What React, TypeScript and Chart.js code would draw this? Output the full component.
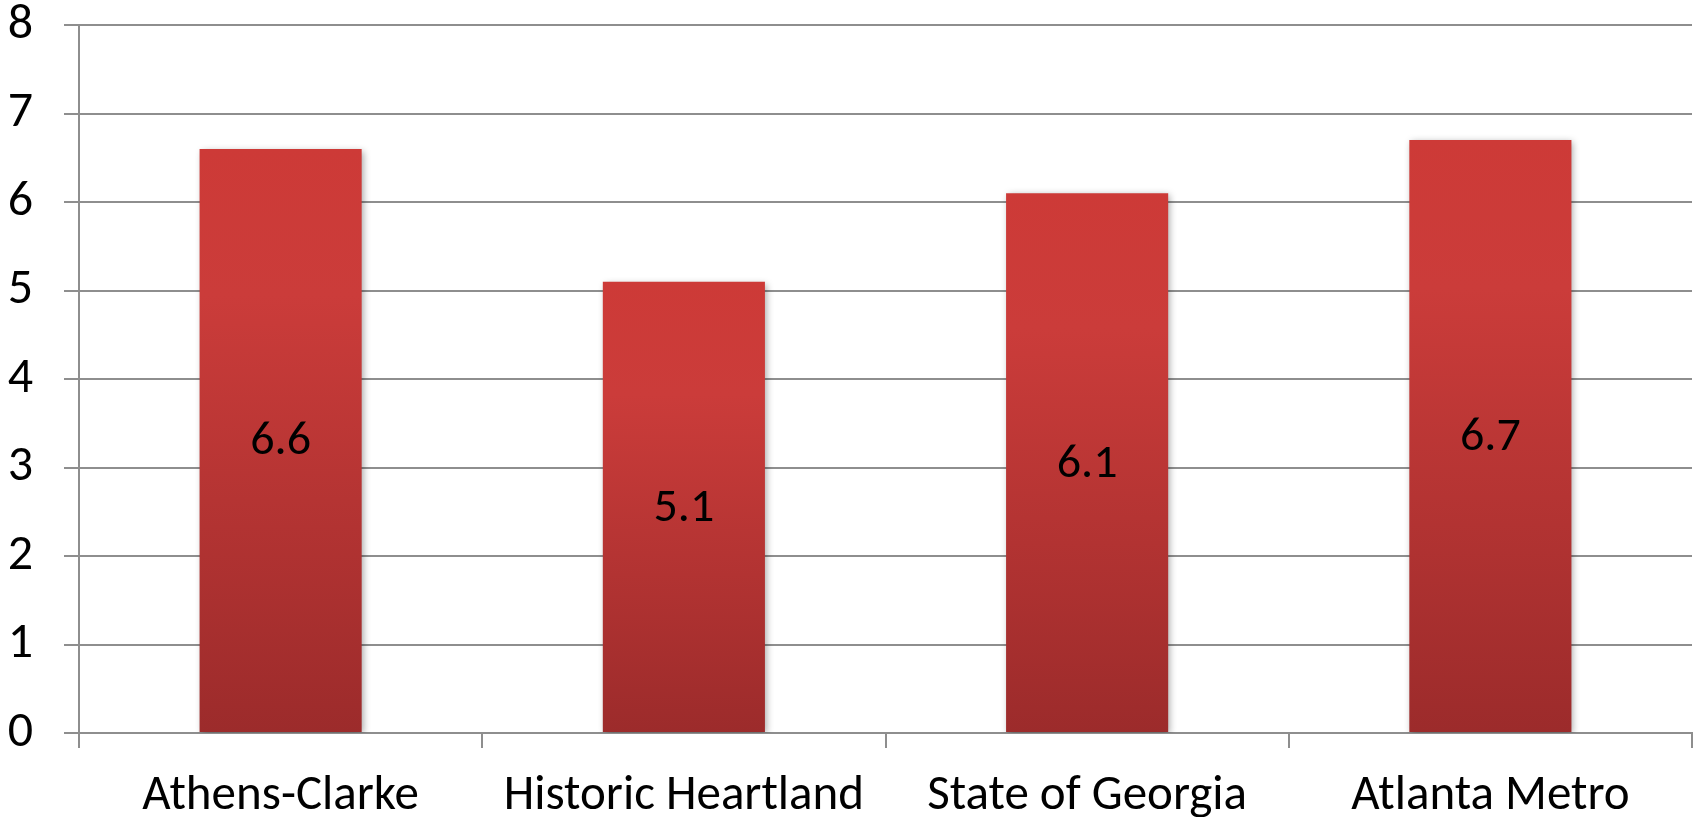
import React, { useEffect, useRef } from 'react';
import { Chart, registerables } from 'chart.js';

Chart.register(...registerables);

const categories = ['Athens-Clarke', 'Historic Heartland', 'State of Georgia', 'Atlanta Metro'];
const values = [6.6, 5.1, 6.1, 6.7];
const yMin = 0;
const yMax = 8;
const yStep = 1;

const FONT = "Carlito, Lato, 'Open Sans', sans-serif";

export default function App() {
  const ref = useRef<HTMLCanvasElement>(null);

  useEffect(() => {
    const canvas = ref.current;
    if (!canvas) return;

    const shadowPlugin = {
      id: 'barShadowAndLabels',
      beforeDatasetsDraw(chart: any) {
        const c = chart.ctx;
        c.save();
        c.shadowColor = 'rgba(0,0,0,0.35)';
        c.shadowBlur = 7;
        c.shadowOffsetX = 2;
        c.shadowOffsetY = 2;
      },
      afterDatasetsDraw(chart: any) {
        const c = chart.ctx;
        c.restore();
        const meta = chart.getDatasetMeta(0);
        c.save();
        c.fillStyle = '#000';
        c.font = `48px ${FONT}`;
        c.textAlign = 'center';
        c.textBaseline = 'middle';
        meta.data.forEach((el: any, i: number) => {
          const v = chart.data.datasets[0].data[i] as number;
          c.fillText(v.toFixed(1), el.x, (el.y + el.base) / 2 + 2);
        });
        c.restore();
      },
    };

    const chart = new Chart(canvas, {
      type: 'bar',
      data: {
        labels: categories,
        datasets: [
          {
            data: values,
            backgroundColor: (ctx: any) => {
              const chart = ctx.chart;
              const y = chart.scales && chart.scales.y;
              if (!chart.chartArea || !y || ctx.type !== 'data') return '#C03836';
              const top = y.getPixelForValue(ctx.raw as number);
              const bottom = y.getPixelForValue(0);
              const g = chart.ctx.createLinearGradient(0, top, 0, bottom);
              g.addColorStop(0, '#CD3A37');
              g.addColorStop(0.25, '#CB3C3A');
              g.addColorStop(1, '#9C2B2B');
              return g;
            },
            borderWidth: 0,
            categoryPercentage: 1,
            barPercentage: 0.402,
          },
        ],
      },
      options: {
        animation: false,
        responsive: true,
        maintainAspectRatio: false,
        layout: { padding: { top: 25, right: 4, bottom: 0, left: 0 } },
        plugins: {
          legend: { display: false },
          tooltip: { enabled: false },
        },
        scales: {
          x: {
            grid: {
              offset: true,
              drawOnChartArea: false,
              drawTicks: true,
              tickLength: 15,
              color: '#8e8e8e',
              lineWidth: 2,
            },
            border: { display: true, color: '#8e8e8e', width: 2 },
            ticks: {
              color: '#000',
              font: { family: FONT, size: 49 },
              padding: 19,
              maxRotation: 0,
              autoSkip: false,
            },
            afterFit(scale: any) {
              scale.height = 84;
            },
          },
          y: {
            min: yMin,
            max: yMax,
            grid: {
              color: '#8e8e8e',
              lineWidth: 2,
              tickLength: 15,
            },
            border: { display: true, color: '#8e8e8e', width: 2 },
            ticks: {
              stepSize: yStep,
              color: '#000',
              font: { family: FONT, size: 50 },
              padding: 31,
            },
            afterFit(scale: any) {
              scale.width = 79;
              scale.paddingTop = 0;
              scale.paddingBottom = 0;
            },
          },
        },
      },
      plugins: [shadowPlugin],
    });

    return () => chart.destroy();
  }, []);

  return (
    <div style={{ position: 'fixed', left: 0, top: 0, width: 1696, height: 817, background: '#fff' }}>
      <canvas ref={ref} />
    </div>
  );
}
